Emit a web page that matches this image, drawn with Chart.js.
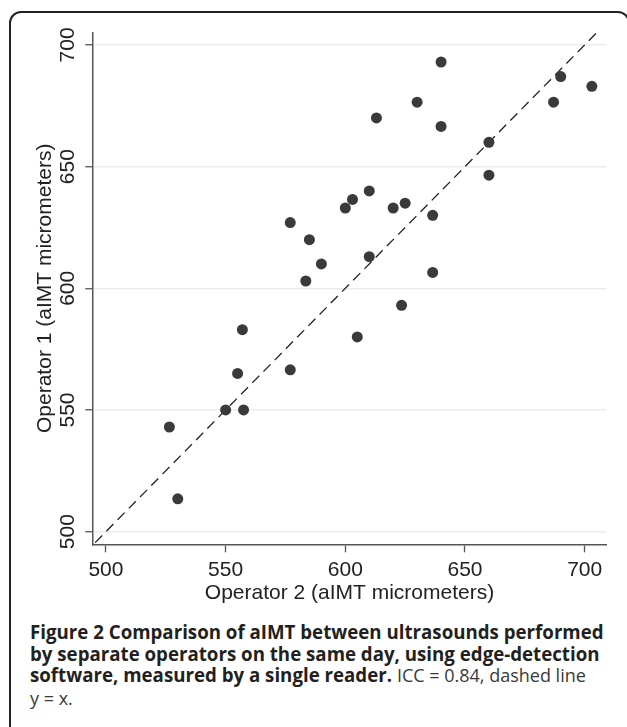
<!DOCTYPE html>
<html>
<head>
<meta charset="utf-8">
<script src="https://cdn.jsdelivr.net/npm/chart.js@4/dist/chart.umd.min.js"></script>
<style>
  /* page frame + caption */
  html, body { margin: 0; padding: 0; background: #fff; overflow: hidden; }
  #frame {
    position: absolute; left: 9px; top: 11px; width: 617px; height: 760px;
    border: 2px solid #222; border-radius: 12px;
  }
  #plot { position: absolute; left: 0; top: 0; }
  #caption {
    position: absolute; left: 30px; top: 621px; white-space: nowrap;
    font-family: 'Open Sans', 'Noto Sans', sans-serif; font-size: 18.7px; line-height: 21.7px; color: #231f20;
  }
  #caption b { font-weight: 700; }
  #caption span { font-weight: 400; font-size: 18px; color: #3a3a3a; }
</style>
</head>
<body>
<div id="frame"></div>
<canvas id="plot" width="627" height="610"></canvas>
<div id="caption">
  <b>Figure 2 Comparison of aIMT between ultrasounds performed</b><br>
  <b>by separate operators on the same day, using edge-detection</b><br>
  <b>software, measured by a single reader.</b> <span>ICC = 0.84, dashed line</span><br>
  <span>y = x.</span>
</div>

<script>
/* ── DATA ── */
const operator2 = [577, 585, 590, 583.5, 640, 690, 703, 630, 687, 613, 640, 660, 660, 610, 603,
                   600, 620, 625, 636.5, 610, 636.5, 557, 555, 577, 550, 557.5, 526.5, 530, 623.5, 605];
const operator1 = [627, 620, 610, 603, 693, 687, 683, 676.5, 676.5, 670, 666.5, 660, 646.5, 640, 636.5,
                   633, 633, 635, 630, 613, 606.5, 583, 565, 566.5, 550, 550, 543, 513.5, 593, 580];
const axisTicks = [500, 550, 600, 650, 700];
const identityEnds = [495.5, 705];   // dashed y = x line

const points = operator2.map((x, i) => ({ x: x, y: operator1[i] }));
const identity = identityEnds.map(v => ({ x: v, y: v }));

const fixTicks = scale => { scale.ticks = axisTicks.map(v => ({ value: v })); };
const tickFont = { family: "'Liberation Sans', Arial, sans-serif", size: 21 };

new Chart(document.getElementById('plot'), {
  type: 'scatter',
  data: {
    datasets: [
      {
        label: 'Operators',
        data: points,
        backgroundColor: '#3a3a3a',
        borderWidth: 0,
        pointRadius: 5.5,
        pointHoverRadius: 5.5,
      },
      {
        type: 'line',
        label: 'y = x',
        data: identity,
        borderColor: '#222',
        borderWidth: 1.3,
        borderDash: [10, 6],
        pointRadius: 0,
        fill: false,
      },
    ],
  },
  options: {
    responsive: false,
    animation: false,
    events: [],
    layout: { padding: { top: 32.3, right: 20.3, left: 0, bottom: 0 } },
    plugins: { legend: { display: false }, tooltip: { enabled: false } },
    scales: {
      x: {
        type: 'linear',
        min: 494.3, max: 709.2,
        afterBuildTicks: fixTicks,
        afterFit: s => { s.height = 65.7; },
        grid: { drawOnChartArea: false, tickLength: 8, tickColor: '#555', tickWidth: 1.3 },
        border: { color: '#555', width: 1.5 },
        ticks: { color: '#222', font: tickFont, padding: 5, maxRotation: 0 },
        title: {
          display: true, text: 'Operator 2 (aIMT micrometers)', color: '#222',
          font: tickFont, padding: { top: 0, bottom: 4 },
        },
      },
      y: {
        type: 'linear',
        min: 494.8, max: 705.2,
        afterBuildTicks: fixTicks,
        afterFit: s => { s.width = 92.3; },
        grid: { color: '#ececec', lineWidth: 1.5, tickLength: 7, tickColor: '#555', tickWidth: 1.3 },
        border: { color: '#555', width: 1.5 },
        ticks: { color: '#222', font: tickFont, padding: 0, minRotation: 90, maxRotation: 90, crossAlign: 'center' },
        title: {
          display: true, text: 'Operator 1 (aIMT micrometers)', color: '#222',
          font: tickFont, padding: { top: 33, bottom: 0 },
        },
      },
    },
  },
});
</script>
</body>
</html>
